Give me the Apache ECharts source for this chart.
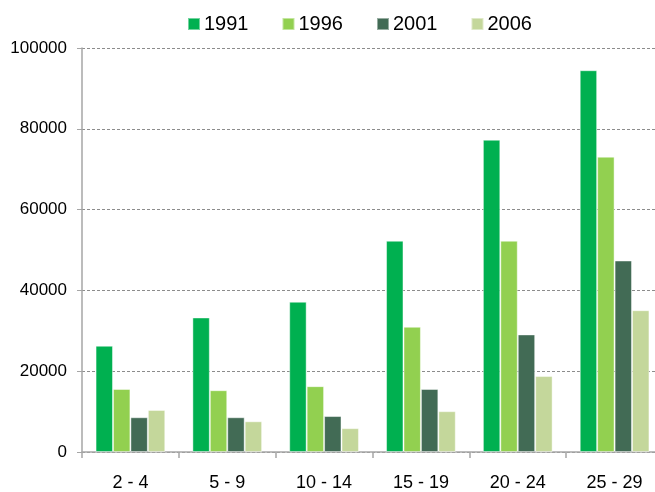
<!DOCTYPE html>
<html>
<head>
<meta charset="utf-8">
<script src="https://cdn.jsdelivr.net/npm/echarts@6/dist/echarts.min.js"></script>
<style>
    html, body { margin: 0; padding: 0; background: #fff; overflow: hidden; }
    #chart { width: 663px; height: 492px; }
</style>
</head>
<body>
<div id="chart"></div>
<script>
    var categories = ["2 - 4", "5 - 9", "10 - 14", "15 - 19", "20 - 24", "25 - 29"];
    var years = ["1991", "1996", "2001", "2006"];
    var values1991 = [26300, 33300, 37200, 52300, 77300, 94500];
    var values1996 = [15600, 15300, 16300, 31000, 52300, 73100];
    var values2001 = [8600, 8600, 8900, 15600, 29100, 47400];
    var values2006 = [10400, 7600, 5900, 10100, 18800, 35100];
    var yTicks = [0, 20000, 40000, 60000, 80000, 100000];

    var colors = ["#00b050", "#92d050", "#426b55", "#c4d79b"];
    var allValues = [values1991, values1996, values2001, values2006];

    var chart = echarts.init(document.getElementById("chart"));

    // one bar series per year
    var series = [];
    for (var i = 0; i < years.length; i++) {
        series.push({
            name: years[i],
            type: "bar",
            data: allValues[i],
            barGap: "0%",
            barCategoryGap: "28%",
            itemStyle: {
                color: colors[i],
                borderColor: "rgba(255,255,255,0.45)",
                borderWidth: 1
            }
        });
    }

    var option = {
        animation: false,
        textStyle: { fontFamily: "Liberation Sans, Arial, sans-serif" },
        color: colors,
        legend: {
            data: years,
            top: 9,
            left: 182,
            itemWidth: 12,
            itemHeight: 12,
            itemGap: 33,
            icon: "rect",
            textStyle: {
                fontSize: 20,
                color: "#000",
                padding: [0, 0, 0, -1]
            }
        },
        grid: {
            left: 82,
            right: 0,
            top: 48,
            bottom: 39,
            containLabel: false
        },
        xAxis: {
            type: "category",
            data: categories,
            axisLine: { lineStyle: { color: "#a6a6a6", width: 1.5 } },
            axisTick: { show: true, length: 6, lineStyle: { color: "#a6a6a6", width: 1.5 } },
            axisLabel: { color: "#000", fontSize: 18, margin: 22 }
        },
        yAxis: {
            type: "value",
            min: yTicks[0],
            max: yTicks[yTicks.length - 1],
            interval: yTicks[1] - yTicks[0],
            axisLine: { show: true, lineStyle: { color: "#a6a6a6", width: 1.5 } },
            axisTick: { show: true, length: 5, lineStyle: { color: "#a6a6a6" } },
            axisLabel: {
                color: "#000",
                fontSize: 17,
                margin: 15,
                formatter: function (v) { return String(v); }
            },
            splitLine: { lineStyle: { color: "#8c8c8c", type: [3, 2], width: 1 } }
        },
        series: series
    };

    chart.setOption(option);
</script>
</body>
</html>
